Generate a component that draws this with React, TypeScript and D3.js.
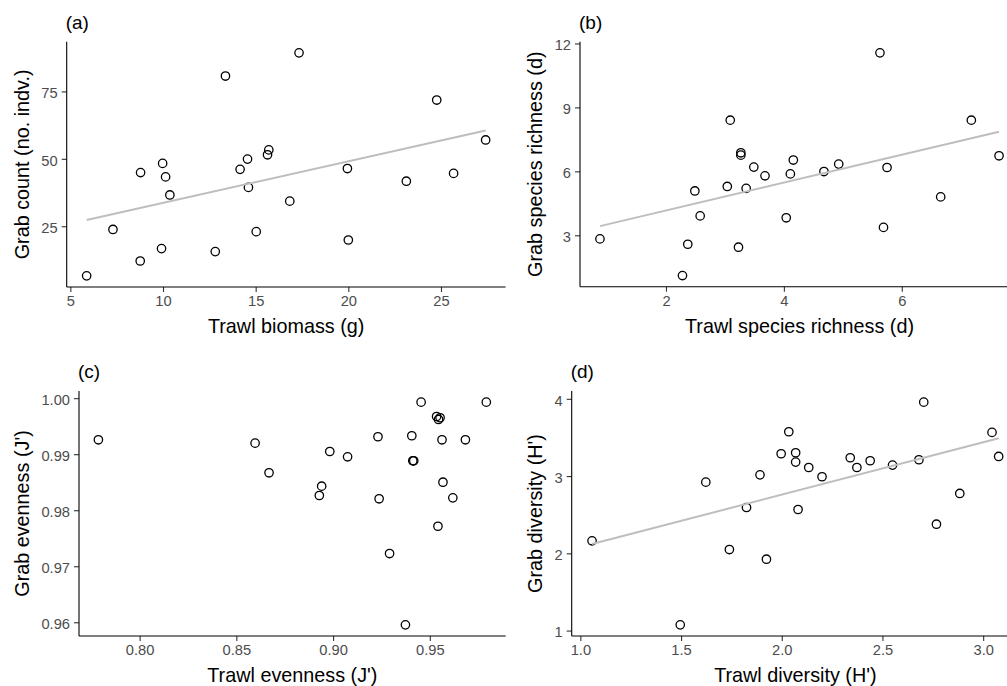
import React, { useEffect, useRef } from 'react';
import * as d3 from 'd3';

// (a) trawl biomass vs grab count
const biomassX = [5.88, 7.3, 8.77, 8.79, 9.98, 9.92, 10.14, 10.37, 12.82, 13.37, 14.16, 14.56, 14.61, 15.03, 15.64, 15.71, 16.84, 17.34, 19.95, 20.0, 23.13, 24.77, 25.68, 27.41];
const countY = [6.6, 23.8, 12.1, 44.9, 48.3, 16.7, 43.3, 36.6, 15.6, 80.7, 46.1, 49.9, 39.4, 23.0, 51.5, 53.3, 34.3, 89.3, 46.4, 19.9, 41.7, 71.8, 44.6, 57.0];
const fitA = [[5.88, 27.3], [27.41, 60.5]];

// (b) species richness
const richTrawl = [0.88, 2.28, 2.37, 2.49, 2.58, 3.04, 3.09, 3.23, 3.27, 3.27, 3.36, 3.49, 3.68, 4.04, 4.11, 4.16, 4.68, 4.93, 5.63, 5.69, 5.75, 6.66, 7.18, 7.65];
const richGrab = [2.83, 1.11, 2.58, 5.08, 3.91, 5.29, 8.4, 2.44, 6.87, 6.76, 5.2, 6.2, 5.79, 3.82, 5.88, 6.53, 5.99, 6.34, 11.56, 3.37, 6.18, 4.8, 8.4, 6.73];
const fitB = [[0.88, 3.43], [7.65, 7.86]];

// (c) evenness
const evenTrawl = [0.7787, 0.8597, 0.8669, 0.8929, 0.8941, 0.8983, 0.9075, 0.9232, 0.9238, 0.9292, 0.9374, 0.9407, 0.9412, 0.9417, 0.9455, 0.9535, 0.9545, 0.9553, 0.9542, 0.9563, 0.9568, 0.9619, 0.9684, 0.9792];
const evenGrab = [0.99257, 0.99197, 0.98668, 0.98263, 0.98429, 0.99048, 0.98953, 0.99311, 0.98204, 0.97227, 0.95954, 0.99329, 0.98882, 0.98882, 0.99929, 0.99673, 0.9962, 0.9965, 0.97714, 0.99257, 0.985, 0.98221, 0.99257, 0.99929];

// (d) diversity
const divTrawl = [1.058, 1.496, 1.623, 1.74, 1.825, 1.892, 1.924, 1.997, 2.035, 2.069, 2.069, 2.081, 2.134, 2.2, 2.34, 2.373, 2.439, 2.55, 2.681, 2.705, 2.768, 2.884, 3.044, 3.077];
const divGrab = [2.162, 1.074, 2.921, 2.049, 2.593, 3.016, 1.924, 3.289, 3.574, 3.302, 3.181, 2.567, 3.111, 2.991, 3.237, 3.111, 3.198, 3.142, 3.211, 3.957, 2.377, 2.775, 3.565, 3.254];
const fitD = [[1.058, 2.12], [3.077, 3.49]];

const ticksA = { x: [5, 10, 15, 20, 25], y: [25, 50, 75] };
const ticksB = { x: [2, 4, 6], y: [3, 6, 9, 12] };
const ticksC = { x: [0.8, 0.85, 0.9, 0.95], y: [0.96, 0.97, 0.98, 0.99, 1.0] };
const ticksD = { x: [1.0, 1.5, 2.0, 2.5, 3.0], y: [1, 2, 3, 4] };

interface Panel {
  label: string;
  xs: number[];
  ys: number[];
  fit: number[][] | null;
  ticks: { x: number[]; y: number[] };
  xFmt: string;
  yFmt: string;
  xTitle: string;
  yTitle: string;
  cellLeft: number;
  box: { left: number; right: number; top: number; bottom: number };
}

const panels: Panel[] = [
  { label: '(a)', xs: biomassX, ys: countY, fit: fitA, ticks: ticksA, xFmt: 'd', yFmt: 'd',
    xTitle: 'Trawl biomass (g)', yTitle: 'Grab count (no. indv.)', cellLeft: 0,
    box: { left: 66.7, right: 505.6, top: 41.7, bottom: 287 } },
  { label: '(b)', xs: richTrawl, ys: richGrab, fit: fitB, ticks: ticksB, xFmt: 'd', yFmt: 'd',
    xTitle: 'Trawl species richness (d)', yTitle: 'Grab species richness (d)', cellLeft: 513.4,
    box: { left: 580, right: 1019, top: 41.7, bottom: 286.7 } },
  { label: '(c)', xs: evenTrawl, ys: evenGrab, fit: null, ticks: ticksC, xFmt: '.2f', yFmt: '.2f',
    xTitle: "Trawl evenness (J')", yTitle: "Grab evenness (J')", cellLeft: 0,
    box: { left: 79, right: 505.7, top: 391, bottom: 636 } },
  { label: '(d)', xs: divTrawl, ys: divGrab, fit: fitD, ticks: ticksD, xFmt: '.1f', yFmt: 'd',
    xTitle: "Trawl diversity (H')", yTitle: "Grab diversity (H')", cellLeft: 513.4,
    box: { left: 571.7, right: 1019, top: 391, bottom: 636 } },
];

// ggplot style 5% padding
const padded = (v: number[]): [number, number] => {
  const [lo, hi] = d3.extent(v) as [number, number];
  const pad = (hi - lo) * 0.05;
  return [lo - pad, hi + pad];
};

const FONT = "'Liberation Sans', Arial, sans-serif";

const App: React.FC = () => {
  const svgRef = useRef<SVGSVGElement>(null);

  useEffect(() => {
    if (!svgRef.current) return;
    const svg = d3.select(svgRef.current);
    svg.selectAll('*').remove();

    panels.forEach(p => {
      const { left, right, top, bottom } = p.box;
      const x = d3.scaleLinear().domain(padded(p.xs)).range([left, right]);
      const y = d3.scaleLinear().domain(padded(p.ys)).range([bottom, top]);
      const g = svg.append('g').attr('font-family', FONT);

      // points
      g.selectAll('circle.pt')
        .data(p.xs.map((v, i) => [v, p.ys[i]]))
        .enter()
        .append('circle')
        .attr('class', 'pt')
        .attr('cx', d => x(d[0]))
        .attr('cy', d => y(d[1]))
        .attr('r', 4.2)
        .attr('fill', 'none')
        .attr('stroke', '#000')
        .attr('stroke-width', 1.3);

      // fitted line
      if (p.fit) {
        const line = d3.line<number[]>().x(d => x(d[0])).y(d => y(d[1]));
        g.append('path')
          .datum(p.fit)
          .attr('fill', 'none')
          .attr('stroke', '#bebebe')
          .attr('stroke-width', 2)
          .attr('d', line);
      }

      // axes
      const xAxis = d3.axisBottom(x).tickValues(p.ticks.x).tickSize(5).tickPadding(4)
        .tickFormat(d3.format(p.xFmt) as any);
      const yAxis = d3.axisLeft(y).tickValues(p.ticks.y).tickSize(5).tickPadding(4)
        .tickFormat(d3.format(p.yFmt) as any);

      const gx = g.append('g').attr('transform', `translate(0,${bottom})`).call(xAxis);
      const gy = g.append('g').attr('transform', `translate(${left},0)`).call(yAxis);
      [gx, gy].forEach(ax => {
        ax.select('.domain').remove();
        ax.selectAll('.tick line').attr('stroke', '#333').attr('stroke-width', 1.1);
        ax.selectAll('.tick text')
          .attr('fill', '#4d4d4d')
          .attr('font-size', 14.7)
          .attr('font-family', FONT);
      });
      gy.selectAll('.tick text').attr('dy', '0.42em');

      g.append('line')
        .attr('x1', left).attr('x2', right).attr('y1', bottom).attr('y2', bottom)
        .attr('stroke', '#000').attr('stroke-width', 1.1);
      g.append('line')
        .attr('x1', left).attr('x2', left).attr('y1', top).attr('y2', bottom)
        .attr('stroke', '#000').attr('stroke-width', 1.1);

      // titles
      g.append('text')
        .attr('x', (left + right) / 2)
        .attr('y', bottom + 46)
        .attr('text-anchor', 'middle')
        .attr('font-size', 19.8)
        .attr('fill', '#000')
        .text(p.xTitle);

      g.append('text')
        .attr('transform', `translate(${p.cellLeft + 29},${(top + bottom) / 2}) rotate(-90)`)
        .attr('text-anchor', 'middle')
        .attr('font-size', 19.8)
        .attr('fill', '#000')
        .text(p.yTitle);

      g.append('text')
        .attr('x', left - 1)
        .attr('y', top - 13)
        .attr('font-size', 19)
        .attr('fill', '#000')
        .text(p.label);
    });
  }, []);

  return (
    <svg
      ref={svgRef}
      width={1007}
      height={686}
      style={{ position: 'absolute', left: 0, top: 0, background: '#fff' }}
    ></svg>
  );
};

export default App;
